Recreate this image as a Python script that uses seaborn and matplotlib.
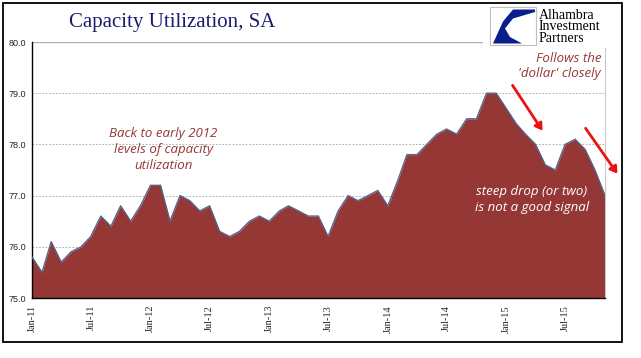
import numpy as np
import pandas as pd
import matplotlib
matplotlib.use("Agg")
import matplotlib.pyplot as plt
import matplotlib.dates as mdates
from matplotlib.patches import Rectangle, Polygon, FancyArrowPatch
import seaborn as sns

# ---- data ----
start_month = "2011-01-01"
values_2011 = [75.8, 75.5, 76.1, 75.7, 75.9, 76.0, 76.2, 76.6, 76.4, 76.8, 76.5, 76.8]
values_2012 = [77.2, 77.2, 76.5, 77.0, 76.9, 76.7, 76.8, 76.3, 76.2, 76.3, 76.5, 76.6]
values_2013 = [76.5, 76.7, 76.8, 76.7, 76.6, 76.6, 76.2, 76.7, 77.0, 76.9, 77.0, 77.1]
values_2014 = [76.8, 77.3, 77.8, 77.8, 78.0, 78.2, 78.3, 78.2, 78.5, 78.5, 79.0, 79.0]
values_2015 = [78.7, 78.4, 78.2, 78.0, 77.6, 77.5, 78.0, 78.1, 77.9, 77.5, 77.0]
capacity = values_2011 + values_2012 + values_2013 + values_2014 + values_2015
months = pd.date_range(start_month, periods=len(capacity), freq="MS")
y_ticks = [75.0, 76.0, 77.0, 78.0, 79.0, 80.0]

title = "Capacity Utilization, SA"
note_left = "Back to early 2012\nlevels of capacity\nutilization"
note_right = "Follows the\n'dollar' closely"
note_white = "steep drop (or two)\nis not a good signal"

df = pd.DataFrame({"month": months, "value": capacity})

# ---- style ----
sns.set_style("white")
plt.rcParams["font.family"] = ["Liberation Sans", "DejaVu Sans"]

W, H = 641, 358
fig = plt.figure(figsize=(W / 100, H / 100), dpi=100)
ax = fig.add_axes([32 / W, 1 - 298 / H, (605 - 32) / W, (298 - 42) / H])

fill_color = "#953735"
edge_color = "#55628a"
ax.fill_between(df["month"], df["value"], 75.0, color=fill_color, lw=0, zorder=2)
sns.lineplot(data=df, x="month", y="value", ax=ax, color=edge_color, lw=1.0, zorder=3)

ax.set_xlim(months[0], months[-1])
ax.set_ylim(75, 80)
ax.set_yticks(y_ticks)
ax.yaxis.set_major_formatter(matplotlib.ticker.FormatStrFormatter("%.1f"))
ax.xaxis.set_major_locator(mdates.MonthLocator(bymonth=[1, 7]))
ax.xaxis.set_major_formatter(mdates.DateFormatter("%b-%y"))
ax.set_xlabel("")
ax.set_ylabel("")

for lab in ax.get_yticklabels():
    lab.set_fontsize(6.5)
    lab.set_family(["Liberation Sans"])
for lab in ax.get_xticklabels():
    lab.set_fontsize(7.5)
    lab.set_family(["Liberation Serif"])
    lab.set_rotation(90)

ax.tick_params(axis="both", direction="out", length=3, width=0.8, color="black", pad=2)
ax.tick_params(axis="y", pad=1)

# grid
for yv in y_ticks[1:-1]:
    ax.axhline(yv, color="#a0a0a0", lw=0.6, ls=(0, (2, 2)), zorder=1)
ax.axhline(80, color="#b0b0b0", lw=1.0, zorder=1)

ax.spines["top"].set_visible(False)
ax.spines["right"].set_color("#c8c8c8")
ax.spines["right"].set_linewidth(0.8)
ax.spines["left"].set_color("black")
ax.spines["bottom"].set_color("black")
ax.spines["left"].set_linewidth(1.0)
ax.spines["bottom"].set_linewidth(1.0)
ax.spines["bottom"].set_zorder(4)

# ---- figure-level decorations (pixel coords -> figure fraction) ----
def fx(x):
    return x / W

def fy(y):
    return 1 - y / H

# title
fig.text(fx(172), fy(22), title, ha="center", va="center", fontsize=15,
         family=["Liberation Serif"], color="#1c1c6e")

# logo white background
fig.patches.append(Rectangle((fx(483), fy(48)), fx(620) - fx(483), fy(4) - fy(48),
                             transform=fig.transFigure, facecolor="white", edgecolor="none", zorder=5))
fig.patches.append(Rectangle((fx(490), fy(45)), fx(536) - fx(490), fy(7) - fy(45),
                             transform=fig.transFigure, facecolor="white", edgecolor="#c0c0c0", lw=0.8, zorder=6))
logo_pts = [(535, 9.5), (513, 9.5), (503, 21.5), (493, 43.5), (522, 43.5),
            (510, 37), (505, 28.5), (513, 18.5), (535, 12)]
fig.patches.append(Polygon([(fx(x), fy(y)) for x, y in logo_pts], closed=True,
                           transform=fig.transFigure, facecolor="#0b1f8c", edgecolor="none", zorder=7))
fig.text(fx(539), fy(27), "Alhambra\nInvestment\nPartners", ha="left", va="center",
         fontsize=10, family=["Liberation Serif"], color="black", linespacing=0.88, zorder=8)

# annotations
ann_color = "#953735"
fig.text(fx(163), fy(150), note_left, ha="center", va="center", fontsize=9.5,
         style="italic", family=["Open Sans", "Lato", "DejaVu Sans"], color=ann_color, linespacing=1.3)
fig.text(fx(601), fy(66), note_right, ha="right", va="center", fontsize=9.5,
         style="italic", family=["Open Sans", "Lato", "DejaVu Sans"], color=ann_color, linespacing=1.3)
fig.text(fx(532), fy(200), note_white, ha="center", va="center", fontsize=9.5,
         style="italic", family=["Open Sans", "Lato", "DejaVu Sans"], color="white", linespacing=1.3, zorder=9)

for (x0, y0, x1, y1) in [(511, 83, 544, 133), (584, 126, 619, 176)]:
    fig.patches.append(FancyArrowPatch((fx(x0), fy(y0)), (fx(x1), fy(y1)), transform=fig.transFigure,
                                       arrowstyle="-|>,head_length=4,head_width=2.5", color="#ee1111",
                                       lw=2.0, zorder=9))

# outer border
fig.patches.append(Rectangle((fx(3), fy(342)), fx(622) - fx(3), fy(3) - fy(342),
                             transform=fig.transFigure, facecolor="none", edgecolor="black", lw=1.3, zorder=10))

fig.savefig("out.png", dpi=100)
